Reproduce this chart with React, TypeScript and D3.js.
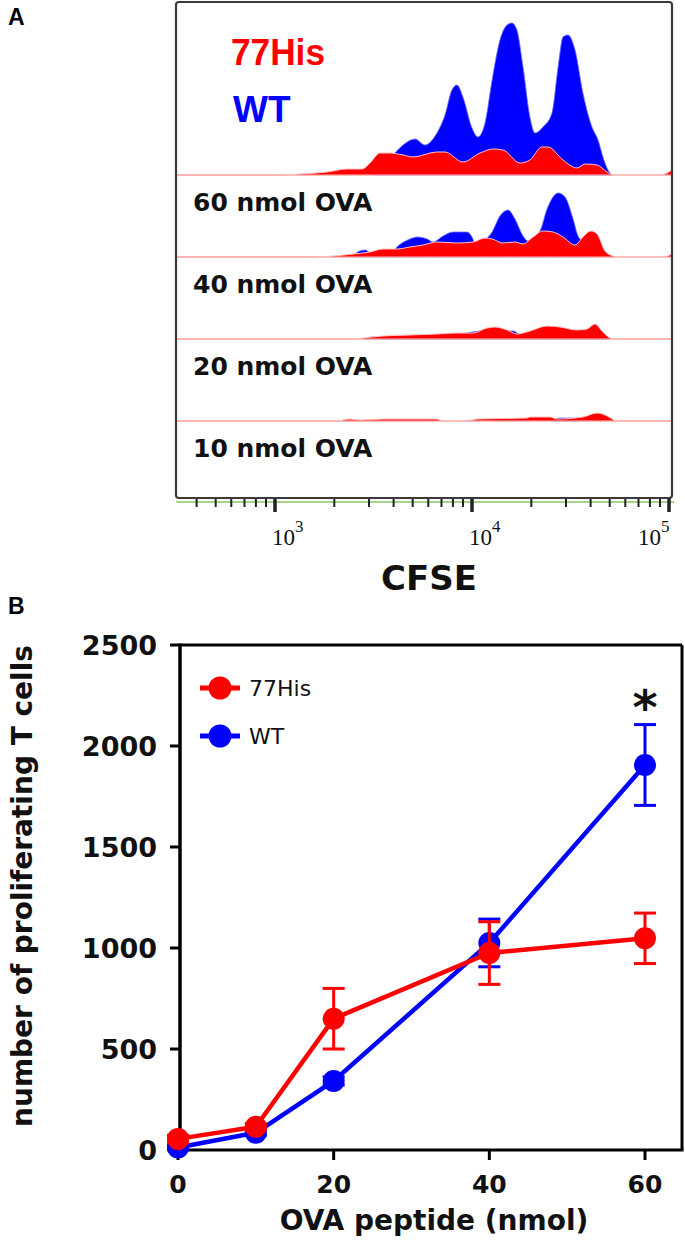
import React from "react";
import * as d3 from "d3";

// ---------- Panel A data (log10 CFSE, cell count) ----------
const rowLabels = ["60 nmol OVA", "40 nmol OVA", "20 nmol OVA", "10 nmol OVA"];

const wtRow0: [number, number][] = [
  [3.5, 0], [3.58, 15], [3.609, 22], [3.65, 30], [3.711, 36], [3.761, 30], [3.822, 42],
  [3.863, 60], [3.898, 85], [3.924, 90], [3.954, 78], [4.0, 47], [4.03, 38], [4.066, 52],
  [4.102, 95], [4.142, 135], [4.178, 150], [4.203, 152], [4.228, 145], [4.259, 108],
  [4.294, 58], [4.32, 42], [4.36, 48], [4.406, 62], [4.437, 108], [4.462, 138], [4.487, 140],
  [4.523, 125], [4.563, 82], [4.609, 48], [4.64, 35], [4.665, 18], [4.69, 5], [4.711, 0],
];
const hisRow0: [number, number][] = [
  [3.05, 0], [3.127, 1], [3.264, 3], [3.365, 6], [3.442, 6], [3.482, 12], [3.533, 22],
  [3.584, 22], [3.65, 20], [3.701, 18], [3.822, 23], [3.863, 23], [3.954, 13], [4.041, 22],
  [4.107, 26], [4.157, 25], [4.244, 12], [4.294, 15], [4.355, 28], [4.386, 28], [4.462, 15],
  [4.533, 7], [4.574, 11], [4.635, 10], [4.685, 3], [4.716, 0], [4.96, 0], [4.99, 2], [5.015, 5],
];
const wtRow1: [number, number][] = [
  [3.39, 0], [3.43, 6], [3.46, 7], [3.48, 4], [3.5, 2], [3.6, 6], [3.619, 10], [3.685, 18],
  [3.721, 20], [3.772, 18], [3.802, 15], [3.853, 21], [3.904, 25], [3.975, 25], [4.0, 20],
  [4.015, 14], [4.056, 16], [4.102, 25], [4.142, 41], [4.183, 47], [4.218, 38], [4.259, 21],
  [4.284, 16], [4.345, 26], [4.381, 48], [4.437, 64], [4.472, 60], [4.513, 38], [4.538, 21],
  [4.558, 16], [4.58, 8], [4.62, 0],
];
const hisRow1: [number, number][] = [
  [3.213, 0], [3.3, 1], [3.396, 3], [3.482, 5], [3.548, 8], [3.619, 8], [3.685, 10],
  [3.751, 12], [3.822, 15], [3.924, 14], [4.005, 15], [4.066, 19], [4.102, 18], [4.157, 14],
  [4.218, 15], [4.259, 13], [4.31, 20], [4.36, 26], [4.411, 25], [4.462, 20], [4.523, 12],
  [4.563, 20], [4.604, 26], [4.635, 23], [4.675, 6], [4.716, 1], [4.741, 0], [4.97, 0], [5.015, 3],
];
const wtRow2: [number, number][] = [
  [3.45, 0], [3.5, 2], [3.7, 2], [3.9, 4], [4.1, 9], [4.18, 8], [4.21, 8], [4.24, 5],
  [4.3, 6], [4.6, 8], [4.7, 0],
];
const hisRow2: [number, number][] = [
  [3.4, 0], [3.447, 1], [3.548, 3], [3.685, 4], [3.822, 5], [3.924, 6], [4.005, 6],
  [4.076, 11], [4.117, 12], [4.178, 9], [4.228, 5], [4.294, 8], [4.381, 13], [4.447, 12],
  [4.533, 9], [4.584, 10], [4.624, 15], [4.66, 8], [4.701, 1], [4.726, 0],
];
const wtRow3: [number, number][] = [
  [4.4, 0], [4.45, 3], [4.5, 3], [4.55, 0],
];
const hisRow3: [number, number][] = [
  [3.33, 0], [3.345, 1], [3.381, 2], [3.431, 1], [3.548, 2], [3.822, 2], [3.848, 0],
  [4.005, 1], [4.025, 2], [4.279, 3], [4.294, 4], [4.396, 4], [4.431, 2], [4.563, 4],
  [4.635, 8], [4.675, 6], [4.726, 0],
];
const wtRows = [wtRow0, wtRow1, wtRow2, wtRow3];
const hisRows = [hisRow0, hisRow1, hisRow2, hisRow3];
const cfseMajor = [1e3, 1e4, 1e5];

// ---------- Panel B data ----------
const ovaDoses = [0, 10, 20, 40, 60];
const his77Mean = [55, 115, 650, 975, 1048];
const his77Err = [18, 15, 150, 155, 125];
const wtMean = [12, 85, 342, 1025, 1906];
const wtErr = [10, 12, 20, 118, 200];
const yTicksB = [0, 500, 1000, 1500, 2000, 2500];
const xTicksB = [0, 20, 40, 60];

const RED = "#ff0000";
const BLUE = "#0000ff";
const DJ = "'DejaVu Sans', Verdana, sans-serif";
const LIB = "'Liberation Sans', Arial, sans-serif";

export default function App() {
  // Panel A scales
  const aLeft = 176, aRight = 672, aTop = 2, aBottom = 498;
  const logDomain: [number, number] = [2.4975, 5.0152];
  const xH = d3.scaleLinear().domain(logDomain).range([aLeft, aRight]);
  const xLog = d3.scaleLog().domain([Math.pow(10, logDomain[0]), Math.pow(10, logDomain[1])]).range([aLeft, aRight]);
  const rowBase = d3.scaleLinear().domain([0, 4]).range([175, 503]);
  const yH = d3.scaleLinear().domain([0, 160]).range([0, 160]);
  const minorTicks = xLog.ticks().filter((t) => !cfseMajor.includes(t));

  const areaFor = (i: number) =>
    d3
      .area<[number, number]>()
      .x((d) => xH(d[0]))
      .y0(rowBase(i))
      .y1((d) => rowBase(i) - yH(d[1]))
      .curve(d3.curveMonotoneX);

  // Panel B scales
  const xB = d3.scaleLinear().domain([0, 60]).range([178, 645]);
  const yB = d3.scaleLinear().domain([0, 2500]).range([1150, 645]);
  const bLeft = 180, bRight = 682, bTop = 645, bBottom = 1150;
  const lineB = d3
    .line<number>()
    .x((_, i) => xB(ovaDoses[i]))
    .y((d) => yB(d));

  const series = [
    { name: "WT", mean: wtMean, err: wtErr, color: BLUE },
    { name: "77His", mean: his77Mean, err: his77Err, color: RED },
  ];
  const legend = [
    { name: "77His", color: RED },
    { name: "WT", color: BLUE },
  ];

  return (
    <div style={{ position: "absolute", left: 0, top: 0 }}>
      <svg width={685} height={1254} style={{ display: "block", background: "#fff" }}>
        {/* ---------------- Panel A ---------------- */}
        <text x={8} y={25} fontFamily={LIB} fontWeight="bold" fontSize={23}>A</text>

        {rowLabels.map((_, i) => (
          <line key={"bl" + i} x1={aLeft} x2={aRight} y1={rowBase(i)} y2={rowBase(i)} stroke="#ff9c9c" strokeWidth={1.6} />
        ))}
        {wtRows.map((d, i) => (
          <path key={"wt" + i} d={areaFor(i)(d) || ""} fill={BLUE} stroke="#6f6fff" strokeWidth={0.8} />
        ))}
        {hisRows.map((d, i) => (
          <path key={"his" + i} d={areaFor(i)(d) || ""} fill={RED} stroke="#ffc4c4" strokeWidth={1} />
        ))}

        <text x={231} y={65} fontFamily={LIB} fontWeight="bold" fontSize={37} fill={RED} textLength={94} lengthAdjust="spacingAndGlyphs">77His</text>
        <text x={233} y={122} fontFamily={LIB} fontWeight="bold" fontSize={37} fill={BLUE}>WT</text>

        {rowLabels.map((t, i) => (
          <text key={"rl" + i} x={193} y={rowBase(i) + 36} fontFamily={DJ} fontWeight="bold" fontSize={25} fill="#111">{t}</text>
        ))}

        {/* axis */}
        <line x1={aLeft} x2={aRight + 2} y1={aBottom + 4} y2={aBottom + 4} stroke="#a8d48c" strokeWidth={2} />
        {minorTicks.map((t) => (
          <line key={"mt" + t} x1={xLog(t)} x2={xLog(t)} y1={aBottom} y2={aBottom + 9} stroke="#222" strokeWidth={2} />
        ))}
        {cfseMajor.map((t) => (
          <line key={"Mt" + t} x1={xLog(t)} x2={xLog(t)} y1={aBottom} y2={aBottom + 14} stroke="#222" strokeWidth={3.5} />
        ))}
        {cfseMajor.map((t) => {
          const x = Math.min(xLog(t) - 3, aRight - 34);
          return (
            <text key={"Ml" + t} x={x} y={545} fontFamily="'Liberation Serif', 'Times New Roman', serif" fontSize={23} fill="#111">
              10
              <tspan dy={-13} fontSize={17}>{String(Math.round(Math.log10(t)))}</tspan>
            </text>
          );
        })}
        <text x={429} y={590} textAnchor="middle" fontFamily={DJ} fontWeight="bold" fontSize={34} fill="#111">CFSE</text>

        <rect x={aLeft} y={aTop} width={aRight - aLeft} height={aBottom - aTop} rx={3} fill="none" stroke="#3a3a3a" strokeWidth={2.2} />

        {/* ---------------- Panel B ---------------- */}
        <text x={8} y={614} fontFamily={LIB} fontWeight="bold" fontSize={23}>B</text>

        {/* frame */}
        <line x1={bLeft} x2={bRight} y1={bTop} y2={bTop} stroke="#000" strokeWidth={3} />
        <line x1={bRight} x2={bRight} y1={bTop} y2={bBottom} stroke="#000" strokeWidth={3} />
        <line x1={bLeft} x2={bRight + 1.5} y1={bBottom} y2={bBottom} stroke="#000" strokeWidth={3} />
        <line x1={bLeft} x2={bLeft} y1={bTop - 1.5} y2={bBottom + 1.5} stroke="#000" strokeWidth={3.5} />

        {yTicksB.map((t) => (
          <g key={"yt" + t}>
            <line x1={bLeft - 10} x2={bLeft} y1={yB(t)} y2={yB(t)} stroke="#000" strokeWidth={3} />
            <text x={157} y={yB(t)} dy="0.36em" textAnchor="end" fontFamily={DJ} fontWeight="bold" fontSize={27} fill="#111">{t}</text>
          </g>
        ))}
        {xTicksB.map((t) => (
          <g key={"xt" + t}>
            <line x1={xB(t)} x2={xB(t)} y1={bBottom} y2={bBottom + 10} stroke="#000" strokeWidth={3} />
            <text x={xB(t)} y={1193} textAnchor="middle" fontFamily={DJ} fontWeight="bold" fontSize={25} fill="#111">{t}</text>
          </g>
        ))}
        <text x={434} y={1230} textAnchor="middle" fontFamily={DJ} fontWeight="bold" fontSize={28} fill="#111">OVA peptide (nmol)</text>
        <text transform="translate(32,886) rotate(-90)" textAnchor="middle" fontFamily={DJ} fontWeight="bold" fontSize={28} fill="#111">number of proliferating T cells</text>

        {series.map((s) => (
          <g key={s.name}>
            {s.mean.map((m, i) => (
              <g key={"e" + i} stroke={s.color} strokeWidth={3}>
                <line x1={xB(ovaDoses[i])} x2={xB(ovaDoses[i])} y1={yB(m - s.err[i])} y2={yB(m + s.err[i])} />
                <line x1={xB(ovaDoses[i]) - 11} x2={xB(ovaDoses[i]) + 11} y1={yB(m + s.err[i])} y2={yB(m + s.err[i])} />
                <line x1={xB(ovaDoses[i]) - 11} x2={xB(ovaDoses[i]) + 11} y1={yB(m - s.err[i])} y2={yB(m - s.err[i])} />
              </g>
            ))}
            <path d={lineB(s.mean) || ""} fill="none" stroke={s.color} strokeWidth={4.5} />
            {s.mean.map((m, i) => (
              <circle key={"c" + i} cx={xB(ovaDoses[i])} cy={yB(m)} r={11} fill={s.color} />
            ))}
          </g>
        ))}

        <text x={xB(60)} y={724} textAnchor="middle" fontFamily={DJ} fontWeight="bold" fontSize={48} fill="#111">*</text>

        {legend.map((l, i) => (
          <g key={"lg" + i}>
            <line x1={200} x2={240} y1={688 + i * 48} y2={688 + i * 48} stroke={l.color} strokeWidth={5} />
            <circle cx={220} cy={688 + i * 48} r={11.5} fill={l.color} />
            <text x={249} y={688 + i * 48} dy="0.36em" fontFamily={DJ} fontSize={22} fill="#111">{l.name}</text>
          </g>
        ))}
      </svg>
    </div>
  );
}
